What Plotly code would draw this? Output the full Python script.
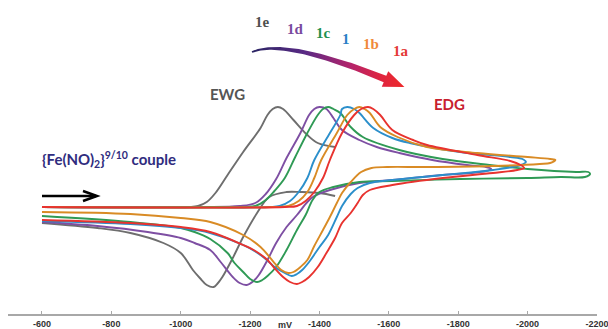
import numpy as np
import plotly.graph_objects as go

# ---------------- data (potential in mV, current in µA) ----------------
tick_vals = [-600, -800, -1000, -1200, -1400, -1600, -1800, -2000, -2200]
tick_text = ["-600", "-800", "-1000", "-1200", "-1400", "-1600", "-1800", "-2000", "-2200"]

# 1e (EWG, grey) – forward scan, then (gap) return scan
e_1e = [-600, -910, -1025, -1050, -1075, -1100, -1135, -1180, -1230, -1250, -1265, -1280, -1295, -1325, -1365,
        -1395, -1445,
        None,
        -1445, -1400, -1345, -1305, -1255, -1220, -1180, -1150, -1120, -1105, -1095, -1075, -1055, -1035, -1000, -950,
        -855, -760, -600]
i_1e = [0.0, 0.0, 0.0, 0.1, 0.5, 1.4, 3.2, 5.5, 7.9, 9.2, 9.8, 10.0, 9.8, 8.7, 7.2,
        6.4, 6.0,
        None,
        1.1, 1.4, 1.5, 1.5, 1.0, -0.6, -3.0, -5.1, -7.0, -7.7, -8.0, -7.8, -7.1, -6.3, -4.6, -3.6,
        -2.6, -2.1, -1.6]

# 1d (purple)
e_1d = [-600, -1055, -1170, -1215, -1245, -1275, -1305, -1345, -1370, -1385, -1400, -1420, -1440, -1465, -1515,
        -1565, -1630, -1725, -1825, -1880, -1895, -1880, -1835, -1755, -1610, -1515, -1430, -1385, -1365, -1335,
        -1305, -1275, -1250, -1225, -1210, -1190, -1170, -1150, -1115, -1085, -1040, -1000, -905, -760, -600]
i_1d = [0.0, 0.0, 0.1, 0.4, 1.3, 2.8, 4.9, 7.4, 9.2, 9.8, 10.0, 9.8, 8.9, 7.7, 6.7,
        6.0, 5.4, 4.7, 4.2, 4.0, 3.8, 3.6, 3.4, 3.2, 2.7, 2.4, 1.7, 1.1, 0.5, -0.8,
        -2.0, -3.6, -5.3, -6.8, -7.4, -7.8, -7.6, -7.0, -5.5, -4.3, -3.6, -3.1, -2.5, -1.9, -1.5]

# 1c (green)
e_1c = [-600, -1085, -1215, -1245, -1270, -1300, -1330, -1365, -1395, -1410, -1425, -1440, -1460, -1490, -1525,
        -1630, -1755, -1890, -2000, -2140, -2175, -2180, -2165, -2095, -2000, -1805, -1610, -1515, -1440, -1400,
        -1380, -1360, -1335, -1305, -1275, -1250, -1235, -1220, -1200, -1180, -1155, -1135, -1085, -1040, -1000,
        -855, -600]
i_1c = [0.0, 0.0, 0.1, 0.7, 1.6, 2.9, 5.0, 7.4, 9.2, 9.8, 10.0, 9.8, 9.4, 8.0, 7.0,
        5.7, 4.8, 4.2, 3.8, 3.5, 3.5, 3.3, 3.0, 3.0, 2.9, 2.8, 2.6, 2.5, 2.0, 1.5,
        0.7, -0.8, -2.3, -4.3, -6.0, -6.9, -7.3, -7.5, -7.2, -6.5, -5.6, -4.6, -3.2, -2.5, -2.1,
        -1.5, -0.9]

# 1 (blue)
e_1 = [-600, -1255, -1285, -1315, -1340, -1365, -1385, -1430, -1460, -1465, -1480, -1500, -1515, -1555, -1610,
       -1660, -1805, -1950, -1985, -1995, -1980, -1900, -1755, -1610, -1545, -1510, -1490, -1465, -1450, -1425,
       -1400, -1370, -1350, -1335, -1320, -1300, -1275, -1230, -1180, -1085, -1000, -855, -600]
i_1 = [0.0, 0.0, 0.1, 0.6, 1.5, 2.9, 4.7, 7.4, 9.2, 9.8, 10.0, 9.8, 9.4, 7.9, 6.9,
       6.4, 5.5, 5.0, 4.8, 4.5, 4.2, 3.7, 3.2, 2.7, 2.4, 1.9, 1.3, 0.1, -1.0, -2.8,
       -4.0, -5.5, -6.3, -6.7, -6.9, -6.6, -6.1, -4.8, -3.8, -2.6, -2.1, -1.7, -1.4]

# 1b (orange)
e_1b = [-600, -1270, -1310, -1340, -1365, -1385, -1405, -1450, -1480, -1500, -1515, -1530, -1545, -1575, -1625,
        -1710, -1855, -2000, -2065, -2080, -2065, -2035, -1900, -1710, -1595, -1550, -1520, -1490, -1465, -1450,
        -1430, -1410, -1385, -1365, -1345, -1325, -1310, -1290, -1275, -1230, -1180, -1085, -1000, -855, -600]
i_1b = [0.0, 0.0, 0.1, 0.6, 1.5, 2.9, 4.7, 7.4, 9.2, 9.8, 10.0, 9.8, 9.4, 8.0, 7.0,
        6.0, 5.4, 5.0, 4.8, 4.7, 4.4, 4.3, 4.1, 4.0, 4.0, 3.9, 3.5, 2.5, 1.4, 0.4,
        -1.0, -2.3, -3.9, -5.3, -6.0, -6.5, -6.6, -6.3, -5.8, -4.0, -2.8, -1.5, -1.1, -0.7, -0.5]

# 1a (EDG, red)
e_1a = [-600, -1300, -1335, -1360, -1385, -1410, -1430, -1465, -1500, -1520, -1540, -1555, -1575, -1610, -1670,
        -1710, -1855, -1950, -1980, -1990, -1970, -1900, -1755, -1610, -1545, -1525, -1510, -1490, -1465, -1445,
        -1420, -1395, -1370, -1350, -1335, -1315, -1295, -1270, -1250, -1215, -1180, -1085, -1000, -855, -600]
i_1a = [0.0, 0.0, 0.1, 0.6, 1.5, 2.9, 4.7, 7.4, 9.2, 9.8, 10.0, 9.8, 9.2, 7.7, 6.7,
        6.2, 5.2, 4.6, 4.2, 3.9, 3.7, 3.4, 2.9, 2.2, 1.7, 1.2, 0.4, -0.6, -1.6, -3.1,
        -4.6, -6.0, -7.0, -7.5, -7.7, -7.5, -7.0, -6.1, -5.3, -4.4, -3.8, -2.5, -2.0, -1.6, -1.3]

series = [
    ("1e", e_1e, i_1e, "#6e6e6e"),
    ("1d", e_1d, i_1d, "#7e4fa3"),
    ("1c", e_1c, i_1c, "#2f9a55"),
    ("1", e_1, i_1, "#2b8fcb"),
    ("1b", e_1b, i_1b, "#d98b25"),
    ("1a", e_1a, i_1a, "#e8332f"),
]

fig = go.Figure()
for name, e, i, c in series:
    fig.add_trace(go.Scatter(x=e, y=i, mode="lines", name=name,
                             line=dict(color=c, width=1.9, shape="spline", smoothing=1.0),
                             connectgaps=False, hoverinfo="skip"))

# ---------------- decorative gradient curved arrow (pixel overlay axes) ----------------
P0 = np.array([252.0, 52.0]); P1 = np.array([285.0, 38.0]); P2 = np.array([385.0, 79.0])
t = np.linspace(0, 1, 60)[:, None]
B = (1 - t) ** 2 * P0 + 2 * (1 - t) * t * P1 + t ** 2 * P2
dB = 2 * (1 - t) * (P1 - P0) + 2 * t * (P2 - P1)
dB = dB / np.linalg.norm(dB, axis=1, keepdims=True)
nrm = np.column_stack([-dB[:, 1], dB[:, 0]])
w = 0.8 + 2.6 * t
up = B + nrm * w
lo = B - nrm * w
de = dB[-1]; ne = nrm[-1]
head = [P2 + ne * 8.5, P2 + de * 21, P2 - ne * 8.5]
poly = np.vstack([up, head, lo[::-1], up[:1]])
fig.add_trace(go.Scatter(x=poly[:, 0], y=poly[:, 1], xaxis="x2", yaxis="y2", mode="lines",
                         line=dict(width=0, color="rgba(0,0,0,0)"), fill="toself",
                         fillgradient=dict(type="horizontal",
                                           colorscale=[[0, "#2a2563"], [0.35, "#5a2a85"], [0.65, "#b4236a"],
                                                       [0.85, "#e0253f"], [1, "#ee2a2a"]]),
                         hoverinfo="skip", showlegend=False))

ann = []
lab_font = "Liberation Serif"
for txt, x, y, c in [("1e", 262, 22, "#505050"), ("1d", 295, 29, "#7a4a9e"), ("1c", 323, 33, "#22904e"),
                     ("1", 346, 39, "#2a80c6"), ("1b", 371, 44, "#f08a3a"), ("1a", 401, 51, "#e43a36")]:
    ann.append(dict(x=x, y=y, xref="x2", yref="y2", text="<b>%s</b>" % txt, showarrow=False,
                    font=dict(family=lab_font, size=15, color=c)))
ann.append(dict(x=227, y=94, xref="x2", yref="y2", text="<b>EWG</b>", showarrow=False,
                font=dict(family="Lato", size=15, color="#555555")))
ann.append(dict(x=449, y=104, xref="x2", yref="y2", text="<b>EDG</b>", showarrow=False,
                font=dict(family="Lato", size=15, color="#c8202e")))
ann.append(dict(x=40, y=159, xref="x2", yref="y2", xanchor="left",
                text="<b>{Fe(NO)<sub>2</sub>}<sup>9/10</sup> couple</b>", showarrow=False,
                font=dict(family="Lato", size=15, color="#2f2c7e")))
ann.append(dict(x=(285 - 8) / 589, y=(314 - 318) / 314, xref="paper", yref="paper", yanchor="top",
                text="<b>mV</b>", showarrow=False,
                font=dict(family="Liberation Sans", size=9, color="#333333")))

shapes = [
    dict(type="line", xref="x2", yref="y2", x0=42, y0=196, x1=96, y1=196, line=dict(color="black", width=2.5)),
    dict(type="path", xref="x2", yref="y2", path="M 83,191 L 97,196 L 83,201", line=dict(color="black", width=2.5)),
]

fig.update_layout(
    width=608, height=329, margin=dict(l=8, r=11, t=0, b=15),
    paper_bgcolor="white", plot_bgcolor="white", showlegend=False,
    xaxis=dict(range=[-502, -2200], tickvals=tick_vals, ticktext=tick_text, showline=True,
               linecolor="#a8a8a8", linewidth=2, ticks="inside", ticklen=3, tickcolor="#a8a8a8",
               tickwidth=1, showgrid=False, zeroline=False, ticklabeloverflow="allow",
               tickfont=dict(family="Liberation Sans", size=9, color="#333333", weight="bold")),
    yaxis=dict(range=[-10.7, 20.7], visible=False),
    xaxis2=dict(range=[8, 597], overlaying="x", visible=False, anchor="y2"),
    yaxis2=dict(range=[314, 0], overlaying="y", visible=False, anchor="x2"),
    annotations=ann, shapes=shapes,
)

fig.write_html("out.html")
